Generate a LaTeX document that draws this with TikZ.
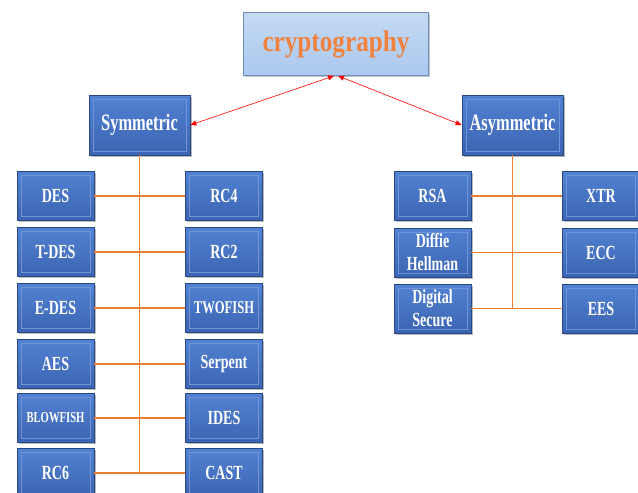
\documentclass[tikz,border=0pt]{standalone}
\usepackage{fontspec}
\usetikzlibrary{shadows,arrows.meta}
\newfontfamily\boxfont[FakeStretch=0.7]{Liberation Serif}
\newfontfamily\cryptofont[FakeStretch=0.84]{Liberation Serif}
\definecolor{boxtop}{HTML}{5282D2}
\definecolor{boxbot}{HTML}{3B64B2}
\definecolor{boxedge}{HTML}{284985}
\definecolor{boxlite}{HTML}{6E95DA}
\definecolor{lineor}{HTML}{ED7D31}
\definecolor{crfill}{HTML}{ABC8EE}
\definecolor{crtop}{HTML}{C4DAF4}
\definecolor{credge}{HTML}{6E8FBE}
\definecolor{crtext}{HTML}{F0823E}
\begin{document}
\begin{tikzpicture}[x=1pt,y=-1pt,
  blk/.style={rectangle, draw=boxedge, line width=0.8pt,
    top color=boxtop, bottom color=boxbot,
    drop shadow={shadow xshift=1.5pt, shadow yshift=-1.8pt, opacity=0.55},
    minimum width=77pt, minimum height=49pt, inner sep=1pt,
    text=white, align=center,
    font=\boxfont\bfseries\fontsize{20}{23}\selectfont,
    path picture={\draw[boxlite, line width=0.6pt]
      ([shift={(4pt,-4pt)}]path picture bounding box.north west) rectangle
      ([shift={(-4pt,4pt)}]path picture bounding box.south east);}},
  head/.style={blk, minimum width=101pt, minimum height=60pt,
    font=\boxfont\bfseries\fontsize{23.5}{26}\selectfont},
  link/.style={draw=lineor, line width=1.6pt},
  redarrow/.style={draw=red, line width=0.6pt, {Triangle[length=6pt,width=5pt]}-{Triangle[length=6pt,width=5pt]}}
]
\useasboundingbox (0,0) rectangle (638,493);

% root
\node[rectangle, draw=credge, line width=0.8pt, top color=crtop, bottom color=crfill,
  drop shadow={shadow xshift=1.5pt, shadow yshift=-1.8pt, opacity=0.45},
  minimum width=185pt, minimum height=63pt, text=crtext,
  font=\cryptofont\bfseries\fontsize{30}{34}\selectfont] (crypto) at (336,44) {cryptography};

% heads
\node[head] (sym) at (139.5,125) {Symmetric};
\node[head] (asym) at (512.5,125) {Asymmetric};

% symmetric left column
\node[blk] (des)   at (55.5,196) {DES};
\node[blk] (tdes)  at (55.5,252) {T-DES};
\node[blk] (edes)  at (55.5,308) {E-DES};
\node[blk] (aes)   at (55.5,364) {AES};
\node[blk, font=\boxfont\bfseries\fontsize{15.2}{18}\selectfont] (blow) at (55.5,418) {BLOWFISH};
\node[blk] (rcsix) at (55.5,473) {RC6};

% symmetric right column
\node[blk] (rcfour) at (224,196) {RC4};
\node[blk] (rctwo)  at (224,252) {RC2};
\node[blk, font=\boxfont\bfseries\fontsize{18}{21}\selectfont] (two) at (224,308) {TWOFISH};
\node[blk] (serp)   at (224,364) {Serpent};
\node[blk] (ides)   at (224,418) {IDES};
\node[blk] (cast)   at (224,473) {CAST};

% asymmetric
\node[blk] (rsa)  at (432.5,196) {RSA};
\node[blk] (dh)   at (432.5,252.5) {Diffie\\Hellman};
\node[blk] (ds)   at (432.5,308.5) {Digital\\Secure};
\node[blk] (xtr)  at (601,196) {XTR};
\node[blk] (ecc)  at (601,252.5) {ECC};
\node[blk] (ees)  at (601,308.5) {EES};

% arrows
\draw[redarrow] ([xshift=-2pt]crypto.south) -- (sym.east);
\draw[redarrow] ([xshift=2pt]crypto.south) -- (asym.west);

% symmetric links
\coordinate (symend) at (sym |- rcsix);
\draw[link] (sym.south) -- (symend);
\draw[link] (des.east) -- (rcfour.west);
\draw[link] (tdes.east) -- (rctwo.west);
\draw[link] (edes.east) -- (two.west);
\draw[link] (aes.east) -- (serp.west);
\draw[link] (blow.east) -- (ides.west);
\draw[link] (rcsix.east) -- (cast.west);

% asymmetric links
\coordinate (asymend) at (asym |- ds);
\draw[link] (asym.south) -- (asymend);
\draw[link] (rsa.east) -- (xtr.west);
\draw[link] (dh.east) -- (ecc.west);
\draw[link] (ds.east) -- (ees.west);
\end{tikzpicture}
\end{document}
